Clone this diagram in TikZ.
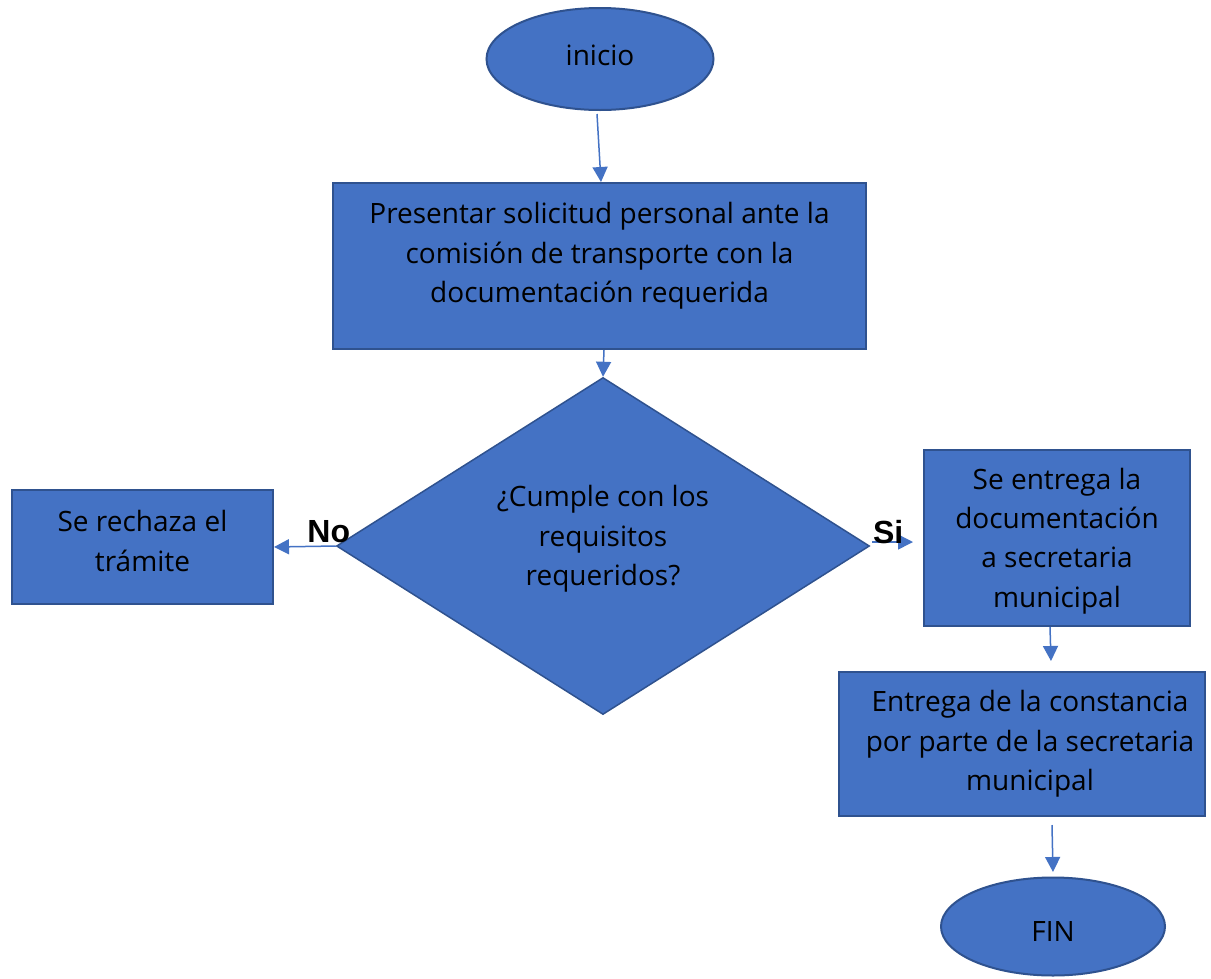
\documentclass[tikz,border=0pt]{standalone}
\usepackage{fontspec}
\setmainfont{Open Sans}
\newfontfamily\answerfont{Liberation Sans}
\usetikzlibrary{positioning, arrows.meta, shapes.geometric}
\definecolor{flowfill}{HTML}{4472C4}
\definecolor{flowline}{HTML}{2F528F}

\begin{document}
\begin{tikzpicture}[
    x=1pt, y=-1pt,              % 1px = 1pt（下向きにy軸）
    >={Triangle[length=15pt, width=15pt]},
    font=\fontsize{28}{39.3}\selectfont,
    % 処理ボックス
    box/.style={rectangle, draw=flowline, fill=flowfill, line width=2pt, inner sep=0pt, align=center},
    % 開始・終了の楕円
    term/.style={ellipse, draw=flowline, fill=flowfill, line width=2pt, inner sep=0pt},
    % 判断のひし形
    decision/.style={diamond, draw=flowline, fill=flowfill, line width=1.5pt, inner sep=0pt},
    % 矢印
    flow/.style={->, draw=flowfill, line width=1.5pt},
    % 「No」「Si」のラベル
    answer/.style={font=\answerfont\bfseries\fontsize{32}{34}\selectfont}
]

    % --- 0. 画像の範囲 ---
    \useasboundingbox (0,0) rectangle (1211,978);
    \fill [white] (0,0) rectangle (1211,978);

    % --- 1. 開始と最初の処理 ---
    \node [term, minimum width=227, minimum height=102] (inicio) at (600,59) {};
    \node (iniciotxt) at ([yshift=4pt]inicio.center) {inicio};

    \node [box, minimum width=533, minimum height=166] (solicitud) at (599.5,266) {};
    \node [align=center] (solicitudtxt) at ([yshift=10pt]solicitud.center)
        {Presentar solicitud personal ante la\\comisión de transporte con la\\documentación requerida};

    % --- 2. 判断 ---
    \node [decision, minimum width=533, minimum height=337] (cumple) at (603,546) {};
    \node [align=center] (cumpletxt) at ([yshift=7pt]cumple.center)
        {¿Cumple con los\\requisitos\\requeridos?};

    % --- 3. 分岐先 ---
    % No の場合
    \node [box, minimum width=261, minimum height=114] (rechazo) at (142.5,547) {};
    \node [align=center] (rechazotxt) at ([yshift=6pt]rechazo.center) {Se rechaza el\\trámite};

    % Si の場合
    \node [box, minimum width=266, minimum height=176] (entrega) at (1057,538) {};
    \node [align=center] (entregatxt) at ([yshift=-3pt]entrega.center)
        {Se entrega la\\documentación\\a secretaria\\municipal};
    \node [box, minimum width=366, minimum height=144] (constancia) at (1022,744) {};
    \node [align=center] (constanciatxt) at ([xshift=8pt]constancia.center)
        {Entrega de la constancia\\por parte de la secretaria\\municipal};

    % 終了
    \node [term, minimum width=224, minimum height=98] (fin) at (1053,926.5) {};
    \node (fintxt) at ([yshift=-5pt]fin.center) {FIN};

    % --- 4. 矢印とラベル ---
    \draw [flow] ([xshift=-3pt, yshift=-3pt]inicio.south) -- ([xshift=1.5pt]solicitud.north);
    \draw [flow] ([xshift=4.5pt]solicitud.south) -- (cumple.north);
    \draw [flow] (cumple.west) -- (rechazo.east);
    \draw [flow] ([xshift=2pt, yshift=4pt]cumple.east) -- ([xshift=-10pt, yshift=-4pt]entrega.west);
    \draw [flow] ([xshift=-7pt]entrega.south) -- ([xshift=29pt, yshift=10pt]constancia.north);
    \draw [flow] ([xshift=30pt, yshift=-8pt]constancia.south) -- ([yshift=4.5pt]fin.north);

    \node [answer] (no) at ([xshift=-7pt, yshift=14pt]cumple.west) {No};
    \node [answer] (si) at ([xshift=18pt, yshift=14pt]cumple.east) {Si};

\end{tikzpicture}
\end{document}
